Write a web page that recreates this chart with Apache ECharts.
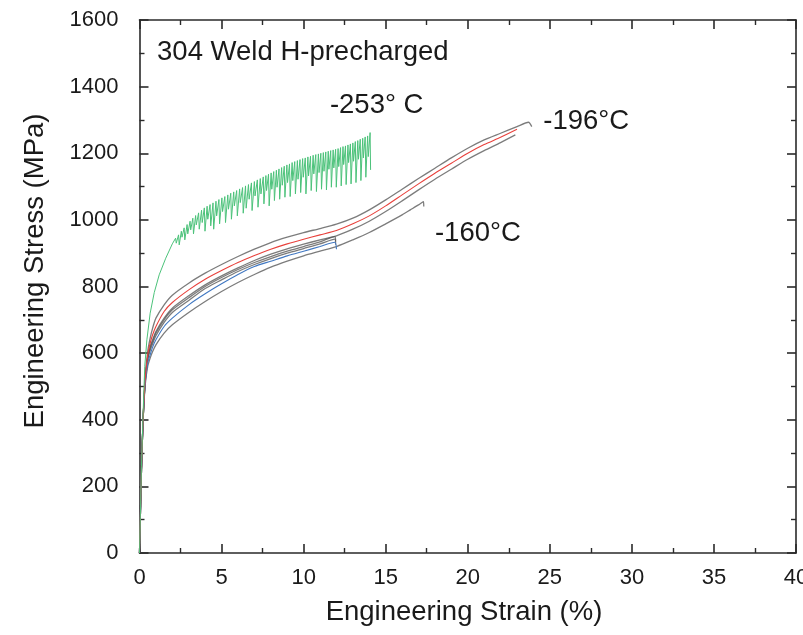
<!DOCTYPE html>
<html>
<head>
<meta charset="utf-8">
<script src="https://cdn.jsdelivr.net/npm/echarts@6/dist/echarts.min.js"></script>
<style>
  html, body { margin: 0; padding: 0; background: #fff; }
  #chart { width: 803px; height: 635px; }
</style>
</head>
<body>
<div id="chart"></div>
<script>
// Engineering stress-strain curves, 304 weld, hydrogen precharged.
// Each curve is a list of [strain %, stress MPa].

// -253 °C: serrated flow (peak / load-drop pairs after yielding)
const curve253 = [
  [0, 0], [0.12, 260], [0.22, 420], [0.32, 560], [0.45, 640], [0.65, 720],
  [0.9, 782], [1.2, 835], [1.6, 885], [2.0, 928],
  [2.2, 945], [2.24, 930], [2.38, 955], [2.42, 925], [2.55, 966], [2.59, 948],
  [2.72, 976], [2.76, 940], [2.9, 986], [2.94, 958], [3.08, 996], [3.12, 970],
  [3.25, 1005], [3.29, 958], [3.42, 1013], [3.46, 985], [3.6, 1021], [3.64, 972],
  [3.78, 1029], [3.82, 992], [3.95, 1036], [3.99, 966], [4.12, 1041], [4.16, 1002],
  [4.3, 1046], [4.34, 982], [4.48, 1051], [4.52, 972], [4.66, 1056], [4.7, 1012],
  [4.84, 1061], [4.88, 988], [5.02, 1066], [5.06, 1025], [5.2, 1070], [5.24, 992],
  [5.38, 1075], [5.42, 1032], [5.56, 1080], [5.6, 1002], [5.74, 1084], [5.78, 1042],
  [5.92, 1088], [5.96, 1012], [6.1, 1093], [6.14, 1052], [6.28, 1097], [6.32, 1020],
  [6.46, 1102], [6.5, 1035], [6.64, 1106], [6.68, 1062], [6.82, 1111], [6.86, 1028],
  [7.0, 1115], [7.04, 1072], [7.18, 1120], [7.22, 1038], [7.36, 1124], [7.4, 1078],
  [7.54, 1129], [7.58, 1048], [7.7, 1133], [7.74, 1088], [7.86, 1137], [7.9, 1042],
  [8.02, 1141], [8.06, 1092], [8.18, 1145], [8.22, 1058], [8.34, 1149], [8.38, 1098],
  [8.5, 1153], [8.54, 1062], [8.66, 1157], [8.7, 1104], [8.82, 1161], [8.86, 1068],
  [8.98, 1165], [9.02, 1112], [9.14, 1168], [9.18, 1070], [9.3, 1172], [9.34, 1118],
  [9.46, 1175], [9.5, 1078], [9.62, 1178], [9.66, 1122], [9.78, 1181], [9.82, 1082],
  [9.94, 1184], [9.98, 1128], [10.1, 1186], [10.14, 1078], [10.26, 1189], [10.3, 1132],
  [10.42, 1191], [10.46, 1088], [10.58, 1194], [10.62, 1138], [10.74, 1196], [10.78, 1085],
  [10.9, 1198], [10.94, 1142], [11.05, 1200], [11.09, 1092], [11.2, 1202], [11.24, 1146],
  [11.35, 1204], [11.39, 1090], [11.5, 1206], [11.54, 1152], [11.65, 1208], [11.69, 1098],
  [11.8, 1210], [11.84, 1156], [11.95, 1212], [11.99, 1098], [12.1, 1214], [12.14, 1160],
  [12.25, 1217], [12.29, 1102], [12.4, 1220], [12.44, 1166], [12.55, 1222], [12.59, 1106],
  [12.7, 1225], [12.74, 1172], [12.85, 1228], [12.89, 1108], [13.0, 1231], [13.04, 1176],
  [13.15, 1235], [13.19, 1112], [13.3, 1238], [13.34, 1182], [13.45, 1242], [13.49, 1118],
  [13.6, 1245], [13.64, 1186], [13.75, 1249], [13.79, 1128], [13.9, 1252], [13.94, 1190],
  [14.05, 1262], [14.08, 1150]
];

// -196 °C
const curve196Upper = [
  [0, 0], [0.12, 250], [0.22, 400], [0.35, 530], [0.5, 605], [0.65, 645], [0.8, 675],
  [1, 705], [1.5, 745], [2, 774], [3, 810], [4, 840], [5, 866], [6, 890], [7, 912],
  [8, 932], [9, 948], [10, 962], [11, 974], [12, 987], [13, 1005], [14, 1030],
  [15, 1060], [16, 1092], [17, 1124], [18, 1155], [19, 1186], [20, 1215], [21, 1240],
  [22, 1260], [23, 1280], [23.7, 1293], [23.9, 1280]
];
const curve196Red = [
  [0, 0], [0.12, 250], [0.22, 400], [0.35, 525], [0.5, 595], [0.65, 630], [0.8, 655],
  [1, 680], [1.5, 725], [2, 752], [3, 790], [4, 822], [5, 848], [6, 872], [7, 893],
  [8, 912], [9, 928], [10, 942], [11, 955], [12, 968], [13, 988], [14, 1012],
  [15, 1042], [16, 1075], [17, 1108], [18, 1140], [19, 1170], [20, 1200], [21, 1226],
  [22, 1248], [23, 1272]
];
const curve196Lower = [
  [0, 0], [0.12, 250], [0.22, 400], [0.35, 520], [0.5, 588], [0.65, 620], [0.8, 640],
  [1, 665], [1.5, 705], [2, 735], [3, 772], [4, 805], [5, 832], [6, 856], [7, 878],
  [8, 897], [9, 913], [10, 927], [11, 940], [12, 952], [13, 972], [14, 996],
  [15, 1025], [16, 1057], [17, 1090], [18, 1122], [19, 1152], [20, 1182], [21, 1208],
  [22, 1232], [22.9, 1255]
];

// -160 °C
const curve160A = [
  [0, 0], [0.12, 250], [0.22, 400], [0.35, 518], [0.5, 585], [0.65, 615], [0.8, 635],
  [1, 660], [1.5, 700], [2, 730], [3, 766], [4, 800], [5, 827], [6, 851], [7, 872],
  [8, 890], [9, 906], [10, 920], [11, 934], [11.9, 950], [11.95, 935]
];
const curve160B = [
  [0, 0], [0.12, 250], [0.22, 400], [0.35, 515], [0.5, 580], [0.65, 608], [0.8, 628],
  [1, 652], [1.5, 692], [2, 722], [3, 758], [4, 794], [5, 820], [6, 845], [7, 866],
  [8, 884], [9, 900], [10, 914], [11, 928], [11.9, 942], [11.95, 925]
];
const curve160Blue = [
  [0, 0], [0.12, 250], [0.22, 400], [0.35, 510], [0.5, 570], [0.65, 595], [0.8, 618],
  [1, 640], [1.5, 680], [2, 705], [3, 745], [4, 778], [5, 808], [6, 836], [7, 860],
  [8, 876], [9, 892], [10, 906], [11, 920], [11.9, 933], [12.0, 912]
];
const curve160Long = [
  [0, 0], [0.12, 250], [0.22, 400], [0.35, 505], [0.5, 560], [0.65, 585], [0.8, 605],
  [1, 625], [1.5, 660], [2, 685], [3, 722], [4, 755], [5, 785], [6, 812], [7, 836],
  [8, 858], [9, 876], [10, 892], [11, 906], [12, 920], [13, 940], [14, 962],
  [15, 988], [16, 1015], [16.5, 1030], [17, 1045], [17.3, 1055], [17.32, 1040]
];

// Axis ranges and ticks
const strainRange = [0, 40];
const strainStep = 5;
const stressRange = [0, 1600];
const stressStep = 200;

// Text labels placed at data coordinates [strain, stress]
const annotations = [
  { text: '304 Weld H-precharged', at: [1.07, 1503] },
  { text: '-253° C', at: [11.6, 1345] },
  { text: '-196°C', at: [24.6, 1297] },
  { text: '-160°C', at: [18.0, 958] }
];

const FONT = '"Liberation Sans", Arial, sans-serif';
const INK = '#1a1a1a';
const TEXT_SIZE = 27.5;

const chart = echarts.init(document.getElementById('chart'), null, { renderer: 'canvas' });

function axisFrame(pos, range, step, labels) {
  return {
    type: 'value', position: pos, min: range[0], max: range[1], interval: step,
    axisLine: { show: true, onZero: false, lineStyle: { color: '#2a2a2a', width: 1.6 } },
    axisTick: { show: true, inside: true, length: 9, lineStyle: { color: '#2a2a2a', width: 1.6 } },
    minorTick: { show: true, splitNumber: 2, length: 5, lineStyle: { color: '#2a2a2a', width: 1.4 } },
    splitLine: { show: false },
    axisLabel: labels ? {
      show: true, fontFamily: FONT, fontSize: 22, color: INK,
      margin: pos === 'left' ? 21 : 14,
      formatter: function (v) { return String(v); }
    } : { show: false }
  };
}

function line(data, color, width, z) {
  return {
    type: 'line', data: data, showSymbol: false, symbol: 'none', smooth: 0.25,
    xAxisIndex: 0, yAxisIndex: 0, z: z || 2, silent: true,
    lineStyle: { color: color, width: width || 1 }
  };
}

const grayLine = 'rgba(80,80,80,0.75)';

chart.setOption({
  animation: false,
  backgroundColor: '#fff',
  grid: { left: 139.5, right: 7, top: 20, bottom: 82, containLabel: false, outerBoundsMode: 'none' },
  xAxis: [axisFrame('bottom', strainRange, strainStep, true), axisFrame('top', strainRange, strainStep, false)],
  yAxis: [axisFrame('left', stressRange, stressStep, true), axisFrame('right', stressRange, stressStep, false)],
  series: [
    line(curve160Long, grayLine, 1.3),
    line(curve160B, grayLine, 1.3),
    line(curve160A, grayLine, 1.3),
    line(curve160Blue, '#4178c2', 1.1, 3),
    line(curve196Lower, grayLine, 1.3),
    line(curve196Upper, grayLine, 1.3),
    line(curve196Red, '#e8413c', 1.1, 3),
    Object.assign(line(curve253, '#4cc27a', 1, 4), { smooth: false })
  ]
});

// Axis titles and curve labels
const graphics = [
  {
    type: 'text', x: 464, y: 612, silent: true,
    style: { text: 'Engineering Strain (%)', font: TEXT_SIZE + 'px ' + FONT, fill: INK, align: 'center', verticalAlign: 'middle' }
  },
  {
    type: 'text', x: 35, y: 271, rotation: Math.PI / 2, silent: true,
    style: { text: 'Engineering Stress (MPa)', font: TEXT_SIZE + 'px ' + FONT, fill: INK, align: 'center', verticalAlign: 'middle' }
  }
];
annotations.forEach(function (a) {
  const p = chart.convertToPixel({ xAxisIndex: 0, yAxisIndex: 0 }, a.at);
  graphics.push({
    type: 'text', x: p[0], y: p[1], silent: true,
    style: { text: a.text, font: TEXT_SIZE + 'px ' + FONT, fill: INK, align: 'left', verticalAlign: 'middle' }
  });
});
chart.setOption({ graphic: graphics });
</script>
</body>
</html>
